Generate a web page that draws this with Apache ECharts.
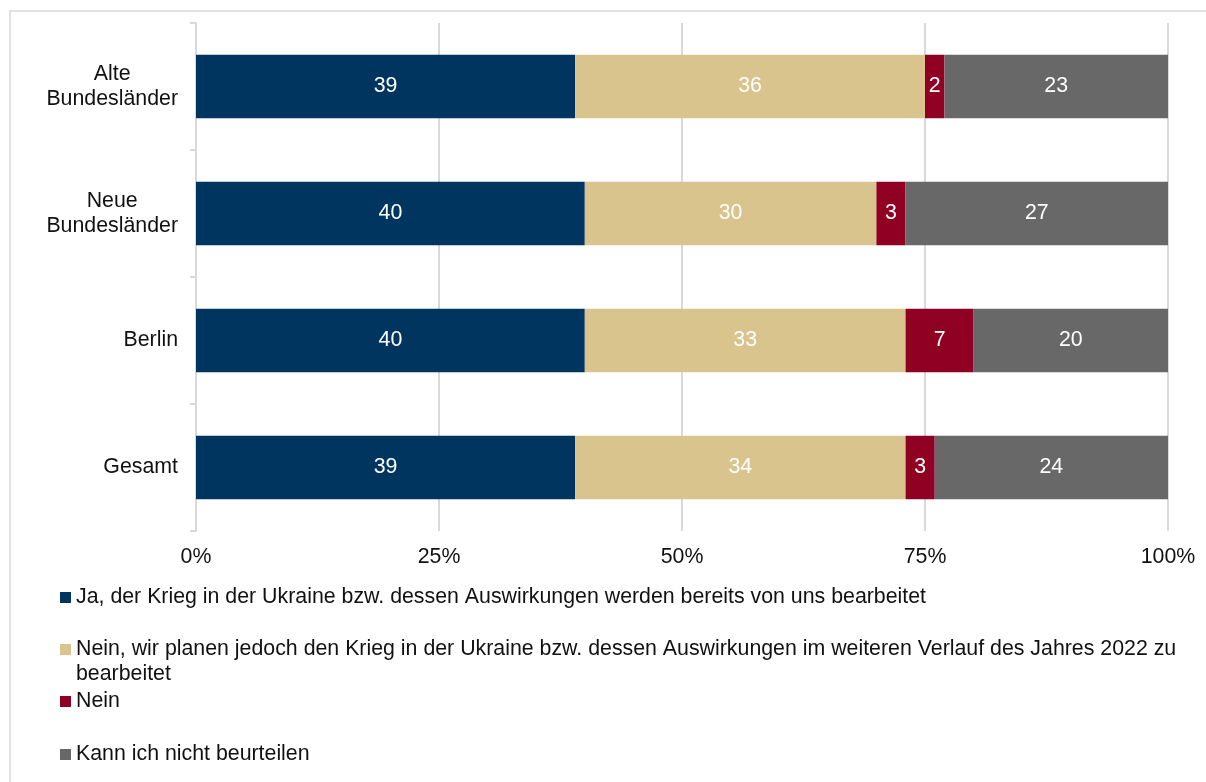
<!DOCTYPE html>
<html>
<head>
<meta charset="utf-8">
<script src="https://cdn.jsdelivr.net/npm/echarts@6/dist/echarts.min.js"></script>
<style>
html,body{margin:0;padding:0;background:#fff;}
#chart{width:1206px;height:782px;}
</style>
</head>
<body>
<div id="chart"></div>
<script>
const categories = ['Alte\nBundesländer', 'Neue\nBundesländer', 'Berlin', 'Gesamt'];
const seriesNames = [
  'Ja, der Krieg in der Ukraine bzw. dessen Auswirkungen werden bereits von uns bearbeitet',
  'Nein, wir planen jedoch den Krieg in der Ukraine bzw. dessen Auswirkungen im weiteren Verlauf des Jahres 2022 zu bearbeitet',
  'Nein',
  'Kann ich nicht beurteilen'
];
const valuesJa = [39, 40, 40, 39];
const valuesPlanen = [36, 30, 33, 34];
const valuesNein = [2, 3, 7, 3];
const valuesKann = [23, 27, 20, 24];
const colors = ['#003560', '#d9c48e', '#900023', '#686868'];
const xTicks = [0, 25, 50, 75, 100];

const FONT = "'Liberation Sans', Arial, sans-serif";
const FS = 21.33;
const seriesData = [valuesJa, valuesPlanen, valuesNein, valuesKann];

const chart = echarts.init(document.getElementById('chart'));

const series = seriesNames.map((name, i) => ({
  name: name,
  type: 'bar',
  stack: 'total',
  barWidth: '50%',
  data: seriesData[i],
  itemStyle: { color: colors[i] },
  label: {
    show: true,
    position: 'inside',
    color: '#fff',
    fontFamily: FONT,
    fontSize: FS
  },
  emphasis: { disabled: true }
}));

const legendTops = [585, 612, 689, 742];
const legends = seriesNames.map((name, i) => ({
  data: [name],
  left: 60,
  top: legendTops[i],
  orient: 'vertical',
  padding: 0,
  itemWidth: 11,
  itemHeight: 11,
  icon: 'rect',
  selectedMode: false,
  formatter: i === 1 ? function (n) { return '\n' + n; } : '{name}',
  textStyle: i === 1 ? {
    fontFamily: FONT, fontSize: FS, color: '#111', lineHeight: 25,
    width: 1110, overflow: 'break'
  } : {
    fontFamily: FONT, fontSize: FS, color: '#111', lineHeight: 25
  }
}));

chart.setOption({
  animation: false,
  backgroundColor: '#fff',
  color: colors,
  graphic: [{
    type: 'rect',
    shape: { x: 10, y: 11, width: 1220, height: 800 },
    style: { fill: 'none', stroke: '#d9d9d9', lineWidth: 1.5 },
    z: -10
  }],
  grid: { left: 196, right: 38, top: 23, bottom: 251 },
  xAxis: {
    type: 'value',
    min: xTicks[0],
    max: xTicks[xTicks.length - 1],
    interval: 25,
    axisLine: { show: false },
    axisTick: { show: false },
    splitLine: { show: true, lineStyle: { color: '#d9d9d9', width: 2 } },
    axisLabel: {
      formatter: '{value}%',
      color: '#111',
      fontFamily: FONT,
      fontSize: FS,
      margin: 16
    }
  },
  yAxis: {
    type: 'category',
    inverse: true,
    data: categories,
    axisLine: { show: true, lineStyle: { color: '#d9d9d9', width: 2 } },
    axisTick: { show: true, length: 6, lineStyle: { color: '#d9d9d9', width: 2 } },
    axisLabel: {
      margin: 18,
      formatter: function (v) {
        return v.split('\n').map(s => '{c|' + s + '}').join('\n');
      },
      rich: {
        c: { align: 'center', fontFamily: FONT, fontSize: FS, color: '#111', lineHeight: 25 }
      }
    }
  },
  legend: legends,
  series: series
});
</script>
</body>
</html>
